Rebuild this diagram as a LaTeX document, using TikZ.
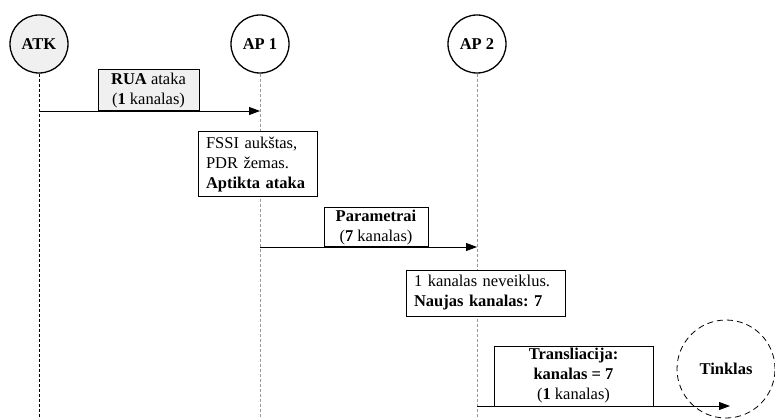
\documentclass[tikz,border=0pt]{standalone}
\usepackage{fontspec}
\setmainfont{Liberation Serif}
\usetikzlibrary{arrows.meta}
\definecolor{lightg}{HTML}{F0F0F0}
\begin{document}
\frenchspacing
\begin{tikzpicture}[x=1pt,y=-1pt,
  font=\fontsize{16.5}{20}\selectfont,
  actor/.style={circle,draw,line width=1.3pt,minimum size=58pt,inner sep=0pt,font=\fontsize{16.5}{20}\selectfont\bfseries},
  lifeline/.style={dashed,dash pattern=on 3pt off 2pt,line width=0.8pt,gray!80},
  msgbox/.style={draw,line width=1pt,align=center,inner sep=0pt},
  notebox/.style={draw,line width=1pt,fill=white,align=left,inner xsep=8pt,inner ysep=0pt},
  msg/.style={line width=0.8pt,-{Triangle[length=11pt,width=8pt]}}]
\useasboundingbox (0,0) rectangle (775,419);
% actors
\node[actor,fill=lightg] (atk) at (39,44) {ATK};
\node[actor] (ap1) at (260,44) {AP 1};
\node[actor] (ap2) at (477,44) {AP 2};
\node[circle,draw,dash pattern=on 6pt off 4pt,line width=0.8pt,minimum size=98pt,inner sep=0pt,font=\fontsize{16.5}{20}\selectfont\bfseries] (net) at (726,369) {Tinklas};
% lifeline ends
\coordinate (atkE) at (39,419);
\coordinate (ap1E) at (260,419);
\coordinate (ap2E) at (477,419);
\draw[lifeline,black] (atk.south) -- (atkE);
\draw[lifeline] (ap1.south) -- (ap1E);
\draw[lifeline] (ap2.south) -- (ap2E);
% message 1
\coordinate (m1s) at (39,111);
\coordinate (m1e) at (260,111);
\draw[msg] (m1s) -- (m1e);
\node[msgbox,fill=lightg,minimum width=101pt,minimum height=41pt] (b1) at (148.5,90.5) {\textbf{RUA} ataka\\(\textbf{1} kanalas)};
% note 1
\node[notebox,text width=103pt,minimum height=65pt] (n1) at (257.5,164.5) {FSSI aukštas,\\PDR žemas.\\\textbf{Aptikta ataka}};
% message 2
\coordinate (m2s) at (260,247);
\coordinate (m2e) at (477,247);
\draw[msg] (m2s) -- (m2e);
\node[msgbox,fill=white,minimum width=104pt,minimum height=39pt] (b2) at (376,227.5) {\textbf{Parametrai}\\(\textbf{7} kanalas)};
% note 2
\node[notebox,text width=143pt,minimum height=46pt] (n2) at (485.5,293) {1 kanalas neveiklus.\\\textbf{Naujas kanalas: 7}};
% message 3
\coordinate (m3s) at (477,406);
\coordinate (m3e) at (730,406);
\draw[msg] (m3s) -- (m3e);
\node[msgbox,fill=white,minimum width=159pt,minimum height=60pt] (b3) at (573.5,376) {\textbf{Transliacija:}\\\textbf{kanalas = 7}\\(\textbf{1} kanalas)};
\end{tikzpicture}
\end{document}
